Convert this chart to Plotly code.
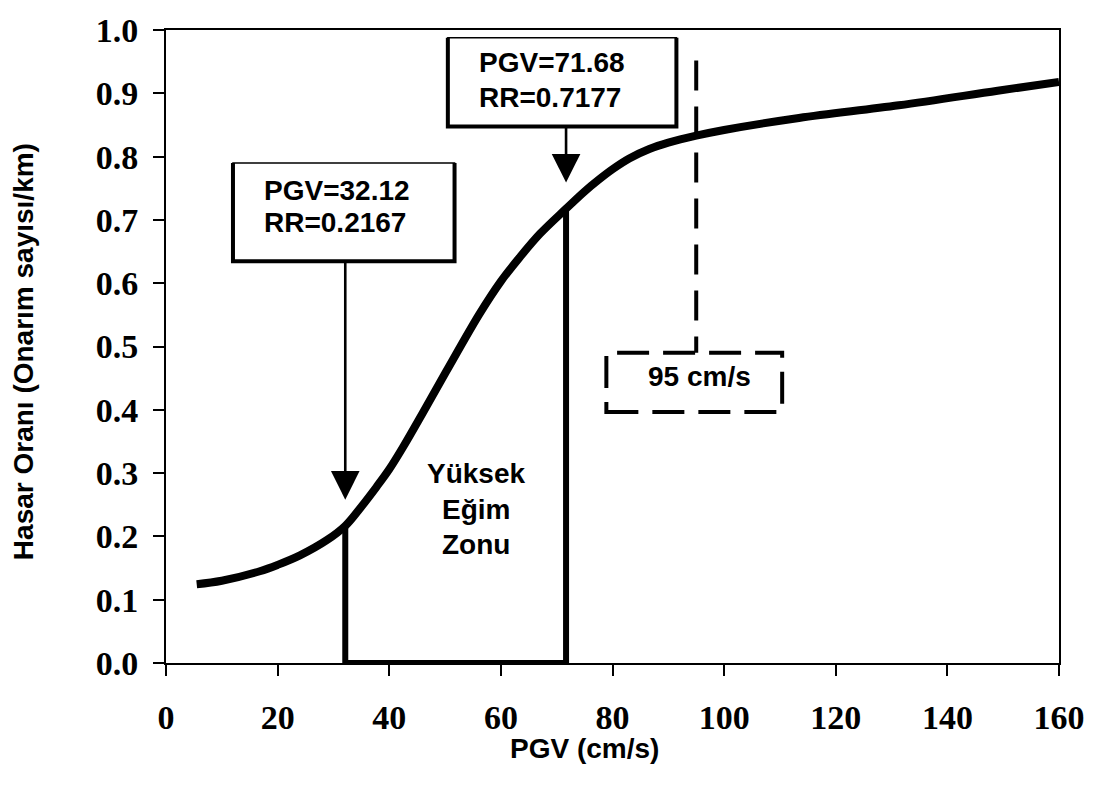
import plotly.graph_objects as go

# Damage-ratio curve: repair rate (RR) against peak ground velocity (PGV)
pgv = [5.5, 10, 16.8, 20, 24, 28.8, 32.12, 35, 37.7, 40, 42.4, 46, 50.3, 56.2,
       60, 63.3, 67, 71.68, 75, 77.6, 80, 83, 86.6, 90, 95, 100, 113.4, 131.3,
       149, 160]
rr = [0.1245, 0.130, 0.145, 0.155, 0.170, 0.194, 0.2167, 0.247, 0.278, 0.306,
      0.340, 0.395, 0.462, 0.552, 0.603, 0.640, 0.678, 0.7177, 0.745, 0.764,
      0.780, 0.797, 0.812, 0.822, 0.833, 0.842, 0.861, 0.881, 0.904, 0.918]

# Boundaries of the high-slope zone
zone_pgv = [32.12, 71.68]
zone_rr = [0.2167, 0.7177]
ref_pgv = 95  # reference velocity marker

x_ticks = [0, 20, 40, 60, 80, 100, 120, 140, 160]
y_ticks = [0.0, 0.1, 0.2, 0.3, 0.4, 0.5, 0.6, 0.7, 0.8, 0.9, 1.0]

SANS = "Liberation Sans, Arial, sans-serif"
SERIF = "Liberation Serif, Times New Roman, serif"
BLACK = "#000000"

fig = go.Figure()

# Open rectangle marking the high-slope zone
fig.add_trace(go.Scatter(
    x=[zone_pgv[0], zone_pgv[0], zone_pgv[1], zone_pgv[1]],
    y=[zone_rr[0], 0, 0, zone_rr[1]],
    mode="lines", line=dict(color=BLACK, width=6), hoverinfo="skip",
))

# Main curve
fig.add_trace(go.Scatter(
    x=pgv, y=rr, mode="lines",
    line=dict(color=BLACK, width=8, shape="spline", smoothing=1.0),
    hoverinfo="skip",
))

shapes = []


def label_box(x0, x1, y0, y1):
    # thin top edge, heavy left/bottom/right edges
    shapes.append(dict(type="rect", xref="x", yref="y", x0=x0, x1=x1, y0=y0, y1=y1,
                       line=dict(color=BLACK, width=1.5), fillcolor="white", layer="above"))
    shapes.append(dict(type="path", xref="x", yref="y",
                       path=f"M{x0},{y1} L{x0},{y0} L{x1},{y0} L{x1},{y1}",
                       line=dict(color=BLACK, width=4), layer="above"))


label_box(12.0, 51.7, 0.6345, 0.790)
label_box(50.5, 91.45, 0.8476, 0.9876)

# Dashed marker at 95 cm/s and its dashed label box
shapes.append(dict(type="line", xref="x", yref="y", x0=ref_pgv, x1=ref_pgv,
                   y0=0.952, y1=0.490,
                   line=dict(color=BLACK, width=4, dash="30px,16px"),
                   layer="above"))
shapes.append(dict(type="rect", xref="x", yref="y", x0=78.9, x1=110.4, y0=0.3966, y1=0.490,
                   line=dict(color=BLACK, width=4, dash="32px,14px"),
                   fillcolor="rgba(0,0,0,0)", layer="above"))

annotations = []


def text(x, y, s, size=28, anchor="left"):
    annotations.append(dict(xref="x", yref="y", x=x, y=y, text=f"<b>{s}</b>",
                            showarrow=False, xanchor=anchor, yanchor="middle",
                            font=dict(family=SANS, size=size, color=BLACK)))


text(17.2, 0.7465, f"PGV={zone_pgv[0]:.2f}")
text(17.2, 0.6952, f"RR={zone_rr[0]:.4f}")
text(55.7, 0.948, f"PGV={zone_pgv[1]:.2f}")
text(55.7, 0.894, f"RR={zone_rr[1]:.4f}")
text(95.65, 0.4526, f"{ref_pgv} cm/s", anchor="center")
text(55.5, 0.300, "Yüksek", anchor="center")
text(55.5, 0.2426, "Eğim", anchor="center")
text(55.5, 0.187, "Zonu", anchor="center")

# Arrows from the label boxes down to the curve
for xv, tip, tail in [(zone_pgv[0], 0.258, 0.6345), (zone_pgv[1], 0.759, 0.8476)]:
    annotations.append(dict(xref="x", yref="y", axref="x", ayref="y",
                            x=xv, y=tip, ax=xv, ay=tail, text="",
                            showarrow=True, arrowhead=2, arrowsize=2.2, arrowwidth=2.6,
                            arrowcolor=BLACK))

# Axis titles
annotations.append(dict(xref="paper", yref="paper", x=0.4687, y=-0.1353,
                        text="<b>PGV (cm/s)</b>", showarrow=False,
                        xanchor="center", yanchor="middle",
                        font=dict(family=SANS, size=28, color=BLACK)))
annotations.append(dict(xref="paper", yref="paper", x=-0.1588, y=0.4914,
                        text="<b>Hasar Oranı (Onarım sayısı/km)</b>", showarrow=False,
                        textangle=-90, xanchor="center", yanchor="middle",
                        font=dict(family=SANS, size=28, color=BLACK)))

axis_common = dict(
    showgrid=False, zeroline=False, showline=True, linecolor=BLACK, linewidth=2,
    mirror=True, ticks="outside", ticklen=11, tickwidth=2, tickcolor=BLACK,
    tickfont=dict(family=SERIF, size=34, color=BLACK, weight="bold"),
)

fig.update_layout(
    width=1097, height=792,
    margin=dict(l=166, r=37, t=20, b=129),
    paper_bgcolor="white", plot_bgcolor="white",
    showlegend=False,
    shapes=shapes, annotations=annotations,
    xaxis=dict(range=[0, 160], tickvals=x_ticks, ticktext=[str(v) for v in x_ticks],
               ticklabelstandoff=12, **axis_common),
    yaxis=dict(range=[0, 1.0], tickvals=y_ticks, ticktext=[f"{v:.1f}" for v in y_ticks],
               ticklabelstandoff=8, **axis_common),
)

fig.write_html("out.html")
